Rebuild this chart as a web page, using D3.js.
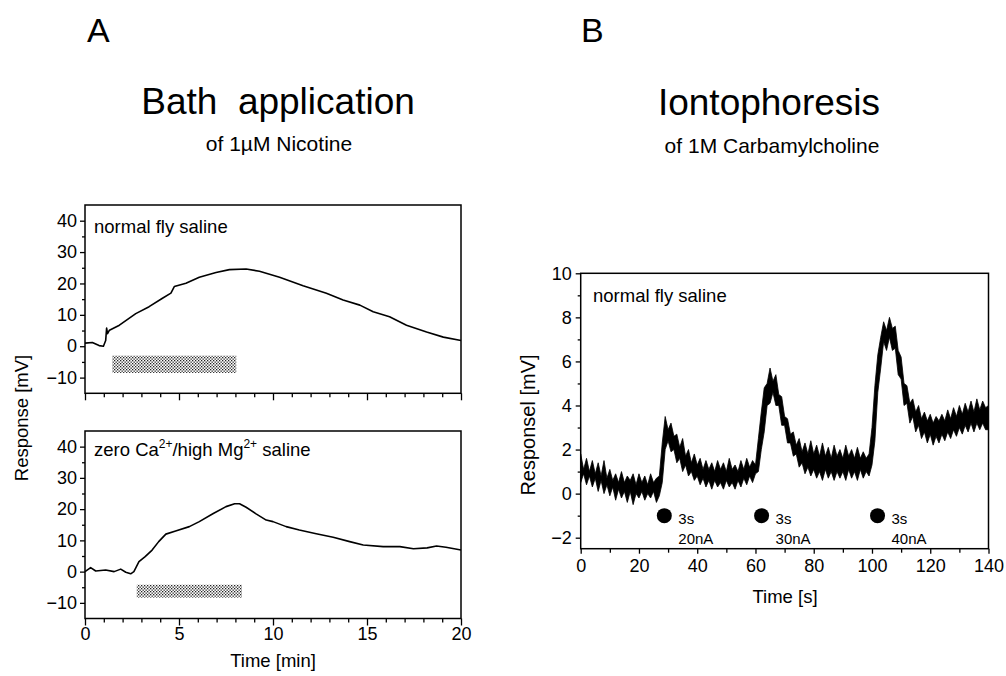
<!DOCTYPE html>
<html>
<head>
<meta charset="utf-8">
<script src="https://cdn.jsdelivr.net/npm/d3@7"></script>
<style>
  body { margin: 0; background: #fff; }
  text { font-family: "Liberation Sans", Arial, Helvetica, sans-serif; fill: #000; }
</style>
</head>
<body>
<svg id="fig" width="1006" height="676"></svg>
<script>
// Panel A: bath application of nicotine (time in min, response in mV)
const normalTime = [0, 0.39, 0.75, 0.98, 1.1, 1.15, 1.2, 1.3, 1.83, 2.7, 3.41, 4.12, 4.57, 4.75, 5.37, 6.08, 6.97, 7.68, 8.57, 9.28, 10.35, 11.6, 12.84, 13.73, 14.62, 15.33, 16.2, 17.1, 18.17, 19.06, 20];
const normalResp = [1.0, 1.2, 0.2, 0, 1.8, 5.8, 4.0, 5.1, 6.7, 10.4, 12.6, 15.3, 16.9, 19.0, 20.1, 22.0, 23.5, 24.4, 24.6, 23.9, 22.0, 19.3, 16.9, 14.7, 13.1, 11.0, 9.4, 6.7, 4.5, 2.9, 1.8];

const zeroCaTime = [0, 0.3, 0.57, 1.1, 1.55, 1.9, 2.17, 2.43, 2.6, 2.87, 3.2, 3.57, 3.92, 4.3, 4.82, 5.55, 6.08, 6.8, 7.5, 7.96, 8.22, 8.57, 9.1, 9.64, 10, 10.7, 11.4, 12.3, 13.2, 14.08, 14.8, 15.86, 16.75, 17.47, 18.2, 18.7, 19.2, 20];
const zeroCaResp = [0, 1.3, 0.2, 0.5, 0, 0.8, -0.2, -0.7, 0, 3.2, 4.8, 6.9, 9.6, 12, 13, 14.4, 16, 18.5, 20.8, 21.7, 21.7, 20.6, 18.5, 16.5, 16, 14.4, 13.3, 12.1, 11, 9.6, 8.5, 8.0, 8.0, 7.3, 7.6, 8.2, 7.8, 6.9];

// nicotine application bars: [start, end] in min, [top, bottom] in mV
const nicotineOn = [1.45, 2.75];
const nicotineOff = [8.05, 8.35];
const barTop = [-3, -4.2];
const barBottom = [-8.5, -8.3];

// Panel B: iontophoresis, noisy trace as upper / lower envelope per second
const ionoTime = d3.range(0, 141);
const ionoHigh = [1.8,1.1,1.6,1.0,1.5,0.9,1.4,0.8,1.5,0.7, 1.1,0.6,0.9,0.5,1.0,0.5,0.8,0.6,0.9,0.4,
  0.9,0.5,0.8,0.4,0.9,0.5,0.7,0.8,2.3,3.5, 2.9,3.2,2.6,2.7,2.1,2.5,1.7,2.0,1.4,1.8,
  1.3,1.6,1.1,1.5,1.1,1.4,1.0,1.5,1.1,1.4, 1.0,1.6,1.1,1.3,1.0,1.5,1.1,1.6,1.2,1.5,
  1.3,2.5,3.7,4.8,5.0,5.7,5.1,5.4,4.5,4.4, 3.5,3.4,2.7,2.8,2.2,2.5,1.9,2.3,1.8,2.4,
  1.8,2.2,1.7,2.3,1.7,2.1,1.6,2.2,1.7,2.0, 1.6,2.2,1.7,2.0,1.6,2.1,1.6,1.9,1.6,1.8,
  3.0,4.9,6.3,7.1,7.8,7.4,8.0,7.5,7.6,6.5, 6.2,5.0,4.9,4.1,4.3,3.7,4.0,3.4,3.7,3.3,
  3.6,3.2,3.5,3.3,3.6,3.3,3.8,3.4,3.9,3.5, 4.0,3.6,4.1,3.7,4.2,3.7,4.3,3.8,4.2,3.9, 4.0];
const ionoLow = [0.5,0.9,0.4,0.8,0.3,0.7,0.1,0.6,0.0,0.4, -0.1,0.3,-0.3,0.2,-0.2,0.1,-0.4,0.1,-0.5,0.0,
  -0.2,0.1,-0.3,0.0,-0.2,0.1,-0.4,-0.1,0.5,2.0, 2.4,1.9,2.0,1.4,1.6,1.0,1.3,0.8,1.0,0.6,
  0.8,0.4,0.7,0.3,0.6,0.2,0.6,0.3,0.5,0.2, 0.6,0.3,0.5,0.2,0.6,0.3,0.7,0.4,0.8,0.5,
  0.9,1.0,2.0,2.8,4.0,4.1,4.6,4.0,4.0,3.1, 3.1,2.3,2.3,1.7,1.8,1.2,1.4,0.9,1.2,0.8,
  1.1,0.7,1.0,0.6,1.1,0.7,1.0,0.6,1.0,0.7, 1.0,0.6,1.1,0.7,1.0,0.6,1.1,0.7,1.0,0.8,
  1.3,2.4,4.6,5.7,6.9,6.5,7.1,6.5,6.6,5.4, 5.2,4.0,4.1,3.2,3.5,2.8,3.1,2.5,2.8,2.3,
  2.7,2.2,2.6,2.3,2.7,2.4,2.8,2.5,2.9,2.6, 3.0,2.7,3.1,2.8,3.2,2.8,3.2,2.9,3.2,2.9, 2.9];

// carbachol pulses
const pulseTime = [28.7, 62.1, 101.9];
const pulseLevel = -1;
const pulseDuration = ["3s", "3s", "3s"];
const pulseCurrent = ["20nA", "30nA", "40nA"];

const svg = d3.select("#fig");

// stipple pattern for the application bars
const defs = svg.append("defs");
const pat = defs.append("pattern")
  .attr("id", "stipple")
  .attr("width", 3).attr("height", 3)
  .attr("patternUnits", "userSpaceOnUse");
pat.append("rect").attr("width", 3).attr("height", 3).attr("fill", "#fff");
pat.append("rect").attr("width", 1.3).attr("height", 1.3).attr("fill", "#222");
pat.append("rect").attr("x", 1.5).attr("y", 1.5).attr("width", 1.3).attr("height", 1.3).attr("fill", "#222");

// ---------- scales ----------
const xA = d3.scaleLinear().domain([0, 20]).range([85, 461]);
const yTop = d3.scaleLinear().domain([-15, 45]).range([393.3, 205]);
const yBot = d3.scaleLinear().domain([-15, 45]).range([618.5, 431]);

const xB = d3.scaleLinear().domain([0, 140]).range([580.7, 988.5]);
const yB = d3.scaleLinear().domain([-2.5, 10]).range([548.7, 273.3]);

function frame(x, y) {
  svg.append("rect")
    .attr("x", x.range()[0])
    .attr("y", y.range()[1])
    .attr("width", x.range()[1] - x.range()[0])
    .attr("height", y.range()[0] - y.range()[1])
    .attr("fill", "none")
    .attr("stroke", "#000")
    .attr("stroke-width", 1.5);
}

function styleAxis(g, fontSize) {
  g.select(".domain").remove();
  g.selectAll("line").attr("stroke", "#000").attr("stroke-width", 1.3);
  g.selectAll("text")
    .attr("fill", "#000")
    .style("font-size", fontSize + "px")
    .style("font-family", '"Liberation Sans", Arial, sans-serif');
}

// y axes of panel A
[yTop, yBot].forEach(y => {
  svg.append("g")
    .attr("transform", `translate(${xA.range()[0]},0)`)
    .call(d3.axisLeft(y).tickValues([-10, 0, 10, 20, 30, 40]).tickSize(5).tickPadding(3))
    .call(g => styleAxis(g, 18));
  svg.append("g")
    .attr("transform", `translate(${xA.range()[0]},0)`)
    .call(d3.axisLeft(y).tickValues([-5, 5, 15, 25, 35]).tickSize(3).tickFormat(""))
    .call(g => styleAxis(g, 18));
});

// x axes of panel A (top one unlabeled)
[[yTop, false], [yBot, true]].forEach(([y, labelled]) => {
  svg.append("g")
    .attr("transform", `translate(0,${y.range()[0]})`)
    .call(d3.axisBottom(xA).tickValues(d3.range(0, 21, 5)).tickSize(7).tickPadding(2)
      .tickFormat(labelled ? d3.format("d") : ""))
    .call(g => styleAxis(g, 18));
  svg.append("g")
    .attr("transform", `translate(0,${y.range()[0]})`)
    .call(d3.axisBottom(xA).tickValues(d3.range(0, 21).filter(v => v % 5)).tickSize(4).tickFormat(""))
    .call(g => styleAxis(g, 18));
});

// axes of panel B
svg.append("g")
  .attr("transform", `translate(${xB.range()[0]},0)`)
  .call(d3.axisLeft(yB).tickValues(d3.range(-2, 11, 2)).tickSize(5).tickPadding(4))
  .call(g => styleAxis(g, 18));
svg.append("g")
  .attr("transform", `translate(${xB.range()[0]},0)`)
  .call(d3.axisLeft(yB).tickValues(d3.range(-1, 10, 2)).tickSize(3).tickFormat(""))
  .call(g => styleAxis(g, 18));
svg.append("g")
  .attr("transform", `translate(0,${yB.range()[0]})`)
  .call(d3.axisBottom(xB).tickValues(d3.range(0, 141, 20)).tickSize(5).tickPadding(6))
  .call(g => styleAxis(g, 18));
svg.append("g")
  .attr("transform", `translate(0,${yB.range()[0]})`)
  .call(d3.axisBottom(xB).tickValues(d3.range(10, 140, 20)).tickSize(4).tickFormat(""))
  .call(g => styleAxis(g, 18));

// ---------- application bars ----------
[yTop, yBot].forEach((y, i) => {
  svg.append("rect")
    .attr("x", xA(nicotineOn[i]))
    .attr("y", y(barTop[i]))
    .attr("width", xA(nicotineOff[i]) - xA(nicotineOn[i]))
    .attr("height", y(barBottom[i]) - y(barTop[i]))
    .attr("fill", "url(#stipple)");
});

// ---------- traces ----------
const lineTop = d3.line().x(d => xA(d[0])).y(d => yTop(d[1]));
const lineBot = d3.line().x(d => xA(d[0])).y(d => yBot(d[1]));

svg.append("path")
  .attr("d", lineTop(d3.zip(normalTime, normalResp)))
  .attr("fill", "none").attr("stroke", "#000").attr("stroke-width", 1.6)
  .attr("stroke-linejoin", "round");
svg.append("path")
  .attr("d", lineBot(d3.zip(zeroCaTime, zeroCaResp)))
  .attr("fill", "none").attr("stroke", "#000").attr("stroke-width", 1.6)
  .attr("stroke-linejoin", "round");

const ionoArea = d3.area()
  .x((d, i) => xB(ionoTime[i]))
  .y0((d, i) => yB(ionoLow[i]))
  .y1((d, i) => yB(ionoHigh[i]));
svg.append("path")
  .attr("d", ionoArea(ionoTime))
  .attr("fill", "#000").attr("stroke", "#000").attr("stroke-width", 0.8)
  .attr("stroke-linejoin", "miter");

// frames drawn over the traces
frame(xA, yTop);
frame(xA, yBot);
frame(xB, yB);

// ---------- pulses ----------
pulseTime.forEach((t, i) => {
  svg.append("circle")
    .attr("cx", xB(t)).attr("cy", yB(pulseLevel)).attr("r", 7.5)
    .attr("fill", "#000");
  svg.append("text")
    .attr("x", xB(t) + 14).attr("y", yB(pulseLevel) + 8)
    .style("font-size", "15px")
    .text(pulseDuration[i]);
  svg.append("text")
    .attr("x", xB(t) + 14).attr("y", yB(pulseLevel) + 28)
    .style("font-size", "15px")
    .text(pulseCurrent[i]);
});

// ---------- labels ----------
svg.append("text").attr("x", 94).attr("y", 233).style("font-size", "18.5px").text("normal fly saline");
svg.append("text").attr("x", 593).attr("y", 302).style("font-size", "18.5px").text("normal fly saline");

const zero = svg.append("text").attr("x", 94).attr("y", 456).style("font-size", "18.5px");
zero.append("tspan").text("zero Ca");
zero.append("tspan").attr("dy", -8).style("font-size", "12px").text("2+");
zero.append("tspan").attr("dy", 8).text("/high Mg");
zero.append("tspan").attr("dy", -8).style("font-size", "12px").text("2+");
zero.append("tspan").attr("dy", 8).text(" saline");

svg.append("text")
  .attr("transform", "translate(28,418) rotate(-90)")
  .attr("text-anchor", "middle").style("font-size", "18.5px")
  .text("Response [mV]");
svg.append("text")
  .attr("transform", "translate(535,425) rotate(-90)")
  .attr("text-anchor", "middle").style("font-size", "20px")
  .text("Responsel [mV]");

svg.append("text").attr("x", 273).attr("y", 667).attr("text-anchor", "middle")
  .style("font-size", "18.5px").text("Time [min]");
svg.append("text").attr("x", 785).attr("y", 603).attr("text-anchor", "middle")
  .style("font-size", "18.5px").text("Time [s]");

// panel letters and titles
svg.append("text").attr("x", 87).attr("y", 42).style("font-size", "34px").text("A");
svg.append("text").attr("x", 581).attr("y", 42).style("font-size", "34px").text("B");

svg.append("text").attr("x", 278).attr("y", 114).attr("text-anchor", "middle")
  .style("font-size", "37px").attr("xml:space", "preserve").text("Bath  application");
svg.append("text").attr("x", 279).attr("y", 151).attr("text-anchor", "middle")
  .style("font-size", "21px").text("of 1µM Nicotine");
svg.append("text").attr("x", 769).attr("y", 115).attr("text-anchor", "middle")
  .style("font-size", "37px").text("Iontophoresis");
svg.append("text").attr("x", 772).attr("y", 153).attr("text-anchor", "middle")
  .style("font-size", "21px").text("of 1M Carbamylcholine");
</script>
</body>
</html>
